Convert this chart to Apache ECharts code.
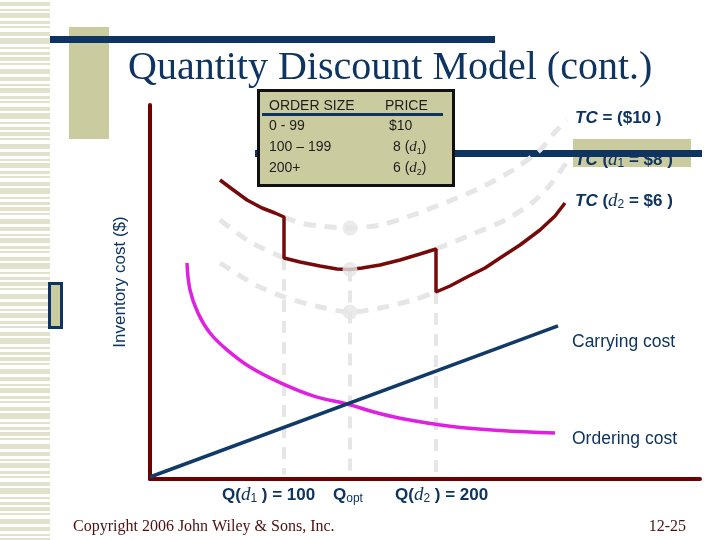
<!DOCTYPE html>
<html><head><meta charset="utf-8">
<script src="https://cdn.jsdelivr.net/npm/echarts@6/dist/echarts.min.js"></script>
<style>html,body{margin:0;padding:0;background:#fff}#c{width:720px;height:540px}</style>
</head><body><div id="c"></div>
<script>
// ---- data (abstract schematic units) ----
const carryingCost = [[0, 0], [81.6, 37.8]];
const orderingCost = [[7.4, 53.5], [8, 46.8], [9.6, 41], [12, 36], [15.4, 31.8], [20, 27.5], [26, 23.6], [32.6, 20.3], [39.6, 18.2], [44.6, 16.3], [50, 14.7], [60, 12.7], [70, 11.6], [81, 11]];
const tc10Curve = [[26.8, 65], [30, 63.5], [34, 62.75], [40, 62.25], [46, 63], [52.6, 65.5], [59.4, 68.75], [66, 72.25], [72.6, 76.75], [78, 81.75], [81, 86.25], [83.4, 89.25]];
const tc8CurveLeft = [[14, 64.25], [19.4, 59.25], [22.4, 57.25], [26.8, 54.75]];
const tc8CurveRight = [[57.2, 57], [64.6, 60.75], [71.4, 64.5], [76.6, 68.75], [80, 73], [83.4, 78.75]];
const tc6Curve = [[14, 53.5], [19.4, 49.25], [22.4, 47.25], [26.8, 45], [34, 42.5], [40, 41.25], [46, 42.25], [52.6, 44.25], [57.2, 46.25]];
const totalCost = [[14, 74.25], [16.4, 72], [19.4, 69.25], [22.4, 67.25], [25, 66], [26.8, 65],
  [26.8, 54.75], [30, 53.75], [34, 52.75], [37.4, 52], [40, 51.9], [42.4, 52.25], [46, 53], [50, 54.25], [54, 55.75], [57.2, 57],
  [57.2, 46.25], [60, 47.75], [63.4, 50], [67, 52.25], [70, 54.75], [74, 58], [78, 61.75], [81, 65.25], [83, 68.5]];
const optimumPoints = [[40, 62.25], [40, 51.9], [40, 41.25]];
const breakQ1 = [[26.8, 54.75], [26.8, 0.6]];
const breakQopt = [[40, 51.9], [40, 0.6]];
const breakQ2 = [[57.2, 46.25], [57.2, 0.6]];
const orderSizes = ['0 - 99', '100 \u2013 199', '200+'];
const prices = ['$10', '8', '6'];
const priceTags = ['', '1', '2'];

const AX = '#6e0000', NAVY = '#0e3461', GRAY = '#e6e6e6', KHAKI = '#cbcba0', MAG = '#e020e0', MAROON = '#760a0a';
const SANS = '"Liberation Sans", Arial, sans-serif', SERIF = '"Liberation Serif", "Times New Roman", serif';

function dashed(data, w, smooth) {
  return { type: 'line', data: data, symbol: 'none', silent: true, smooth: smooth ? 0.3 : false, z: 2,
    lineStyle: { color: GRAY, width: w, type: [12, 9], cap: 'butt' } };
}

// ---- decoration ----
const graphics = [];
const sh = [4, 2, 5, 3, 2, 4, 6, 2, 3, 4, 2, 5];
const sg = [3, 2, 3, 2, 4, 2, 3, 3, 2, 2, 4, 3];
let yy = 2, k = 0;
while (yy < 540) {
  graphics.push({ type: 'rect', shape: { x: 0, y: yy, width: 50, height: sh[k % sh.length] }, style: { fill: '#e2e1cb' }, z: 0 });
  yy += sh[k % sh.length] + sg[k % sg.length]; k++;
}
graphics.push({ type: 'rect', shape: { x: 69, y: 27, width: 40, height: 112 }, style: { fill: KHAKI }, z: 0 });
graphics.push({ type: 'rect', shape: { x: 50, y: 36, width: 445, height: 7 }, style: { fill: NAVY }, z: 1 });
graphics.push({ type: 'rect', shape: { x: 49.5, y: 283.5, width: 12, height: 44 }, style: { fill: KHAKI, stroke: NAVY, lineWidth: 3 }, z: 1 });
graphics.push({ type: 'text', x: 128, y: 68, style: { text: 'Quantity Discount Model (cont.)', font: '40px ' + SERIF, fill: NAVY, textVerticalAlign: 'middle', verticalAlign: 'middle' }, z: 10 });
graphics.push({ type: 'text', x: 120, y: 282, rotation: Math.PI / 2, style: { text: 'Inventory cost ($)', font: '17px ' + SANS, fill: NAVY, textAlign: 'center', align: 'center', textVerticalAlign: 'middle', verticalAlign: 'middle' }, z: 10 });
// mid navy bar and label backing
graphics.push({ type: 'rect', shape: { x: 573, y: 139, width: 118, height: 28 }, style: { fill: KHAKI }, z: 0 });
graphics.push({ type: 'rect', shape: { x: 255, y: 150, width: 447, height: 7 }, style: { fill: NAVY }, z: 1 });

// table
graphics.push({ type: 'rect', shape: { x: 258.5, y: 90.5, width: 195, height: 95 }, style: { fill: KHAKI, stroke: '#111', lineWidth: 3 }, z: 100 });
graphics.push({ type: 'rect', shape: { x: 262, y: 113, width: 181, height: 3 }, style: { fill: NAVY }, z: 101 });
const TF = '14px ' + SANS, TC = '#1e1e1e';
function t(x, y, text, font, fill, extra) {
  const s = Object.assign({ text: text, font: font, fill: fill, textVerticalAlign: 'middle', verticalAlign: 'middle' }, extra || {});
  return { type: 'text', x: x, y: y, style: s, z: 101 };
}
graphics.push(t(269, 106, 'ORDER SIZE', TF, TC));
graphics.push(t(385, 106, 'PRICE', TF, TC));
const richSmall = {
  n: { font: '14px ' + SANS, fill: TC, lineHeight: 18 },
  d: { font: 'italic 15px ' + SERIF, fill: TC, lineHeight: 18 },
  s: { font: '9px ' + SANS, fill: TC, verticalAlign: 'bottom', lineHeight: 10 }
};
orderSizes.forEach(function (o, i) {
  const yRow = 126 + i * 21;
  graphics.push(t(269, yRow, o, TF, TC));
  const txt = priceTags[i] ? '{n|' + prices[i] + ' (}{d|d}{s|' + priceTags[i] + '}{n|)}' : '{n|' + prices[i] + '}';
  graphics.push(t(priceTags[i] ? 393 : 389, yRow, txt, TF, TC, { rich: richSmall }));
});

// right labels
const richTC = {
  ti: { font: 'italic bold 17px ' + SANS, fill: NAVY, lineHeight: 20 },
  n: { font: 'bold 17px ' + SANS, fill: NAVY, lineHeight: 20 },
  d: { font: 'italic 19px ' + SERIF, fill: NAVY, lineHeight: 20 },
  s: { font: '12px ' + SANS, fill: NAVY, verticalAlign: 'bottom', lineHeight: 12 }
};
function lbl(x, y, txt, rich) { return { type: 'text', x: x, y: y, style: { text: txt, rich: rich, textVerticalAlign: 'middle', verticalAlign: 'middle', font: '16px ' + SANS, fill: NAVY }, z: 10 }; }
graphics.push(lbl(575, 118, '{ti|TC}{n| = ($10 )}', richTC));
graphics.push(lbl(575, 160, '{ti|TC}{n| (}{d|d}{s|1}{n| = $8 )}', richTC));
graphics.push(lbl(575, 201, '{ti|TC}{n| (}{d|d}{s|2}{n| = $6 )}', richTC));
graphics.push(t(572, 342, 'Carrying cost', '17.5px ' + SANS, NAVY, {}));
graphics.push(t(572, 439, 'Ordering cost', '17.5px ' + SANS, NAVY, {}));
const richQ = {
  q: { font: 'bold 17px ' + SANS, fill: NAVY, lineHeight: 20 },
  d: { font: 'italic 19px ' + SERIF, fill: NAVY, lineHeight: 20 },
  s: { font: '12px ' + SANS, fill: NAVY, verticalAlign: 'bottom', lineHeight: 12 }
};
graphics.push(lbl(222, 495, '{q|Q(}{d|d}{s|1}{q| ) = 100}', richQ));
graphics.push(lbl(333, 495, '{q|Q}{s|opt}', richQ));
graphics.push(lbl(395, 495, '{q|Q(}{d|d}{s|2}{q| ) = 200}', richQ));
graphics.push(t(73, 527, 'Copyright 2006 John Wiley & Sons, Inc.', '16px ' + SERIF, '#4d1010', {}));
graphics.push(t(686, 527, '12-25', '16px ' + SERIF, '#4d1010', { textAlign: 'right', align: 'right' }));
graphics.forEach(function (g) { g.silent = true; });

const chart = echarts.init(document.getElementById('c'), null, { renderer: 'canvas' });
chart.setOption({
  animation: false,
  backgroundColor: '#fff',
  grid: { left: 150, right: 20, top: 105, bottom: 61 },
  xAxis: { type: 'value', min: 0, max: 110, axisLine: { show: true, onZero: false, lineStyle: { color: AX, width: 4 } }, axisTick: { show: false }, axisLabel: { show: false }, splitLine: { show: false } },
  yAxis: { type: 'value', min: -0.5, max: 93, axisLine: { show: true, onZero: false, lineStyle: { color: AX, width: 4 } }, axisTick: { show: false }, axisLabel: { show: false }, splitLine: { show: false } },
  graphic: graphics,
  series: [
    dashed(tc10Curve, 5, true),
    dashed(tc8CurveLeft, 5, true),
    dashed(tc8CurveRight, 5, true),
    dashed(tc6Curve, 5, true),
    dashed(breakQ1, 4, false),
    dashed(breakQopt, 4, false),
    dashed(breakQ2, 4, false),
    { type: 'line', data: totalCost, symbol: 'none', silent: true, z: 3, lineStyle: { color: MAROON, width: 3.5 } },
    { type: 'scatter', data: optimumPoints, symbolSize: 15, silent: true, z: 6, itemStyle: { color: GRAY } },
    { type: 'line', data: orderingCost, symbol: 'none', smooth: 0.4, silent: true, z: 5, lineStyle: { color: MAG, width: 3.5 } },
    { type: 'line', data: carryingCost, symbol: 'none', silent: true, z: 5, lineStyle: { color: '#123a66', width: 3.5 } }
  ]
});
</script></body></html>
